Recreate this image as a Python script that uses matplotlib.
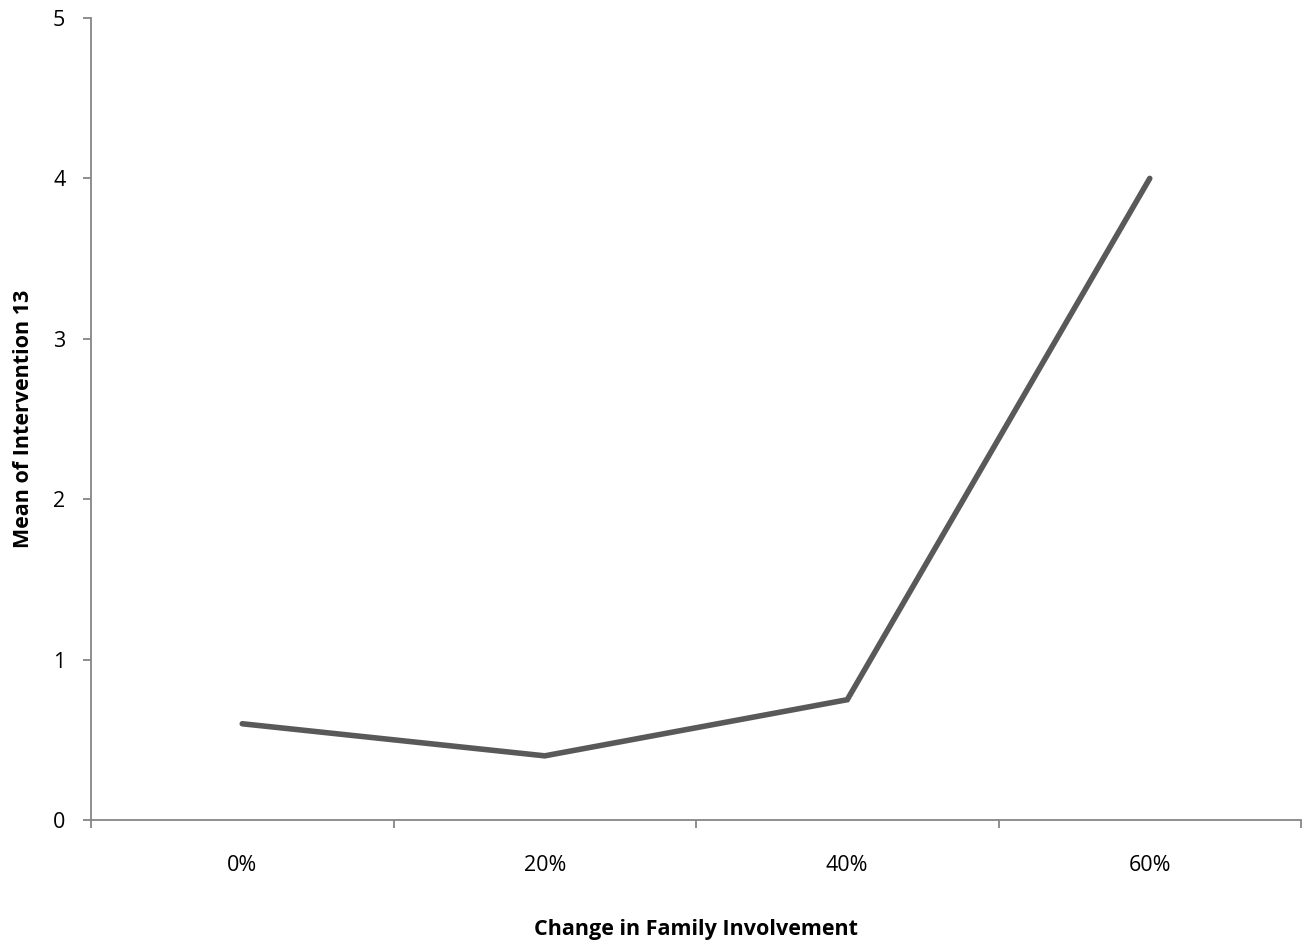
import numpy as np
import matplotlib.pyplot as plt

# data
categories = ['0%', '20%', '40%', '60%']
means = [0.6, 0.4, 0.75, 4.0]

plt.rcParams['font.family'] = ['Open Sans', 'DejaVu Sans']

W, H = 1307, 946
fig = plt.figure(figsize=(W / 100, H / 100), dpi=100)
ax = fig.add_axes([91 / W, (H - 820) / H, (1301 - 91) / W, (820 - 18) / H])

x = np.arange(len(categories))
ax.plot(x, means, color='#595959', linewidth=4, solid_capstyle='round',
        solid_joinstyle='miter')

ax.set_xlim(-0.5, len(categories) - 0.5)
ax.set_ylim(0, 5)
ax.set_yticks(range(0, 6))
ax.set_xticks(x)
ax.set_xticklabels(categories)
ax.set_xticks(np.arange(-0.5, len(categories)), minor=True)

axis_col = '#868686'
for side in ['top', 'right']:
    ax.spines[side].set_visible(False)
for side in ['left', 'bottom']:
    ax.spines[side].set_color(axis_col)
    ax.spines[side].set_linewidth(1.3)

fs = 15.5
ax.tick_params(axis='x', which='major', length=0, pad=25, labelsize=fs)
ax.tick_params(axis='x', which='minor', length=6, width=1.3, color=axis_col, direction='out')
ax.tick_params(axis='y', length=6, width=1.3, color=axis_col, direction='out', pad=12.5, labelsize=fs)

ax.set_xlabel('Change in Family Involvement', fontsize=fs, fontweight='bold')
ax.xaxis.set_label_coords(0.5, (820 - 935) / 802)
ax.xaxis.label.set_verticalalignment('baseline')
ax.set_ylabel('Mean of Intervention 13', fontsize=fs, fontweight='bold')
ax.yaxis.set_label_coords((34 - 91) / 1210, 0.5)

fig.savefig('out.png', dpi=100)
